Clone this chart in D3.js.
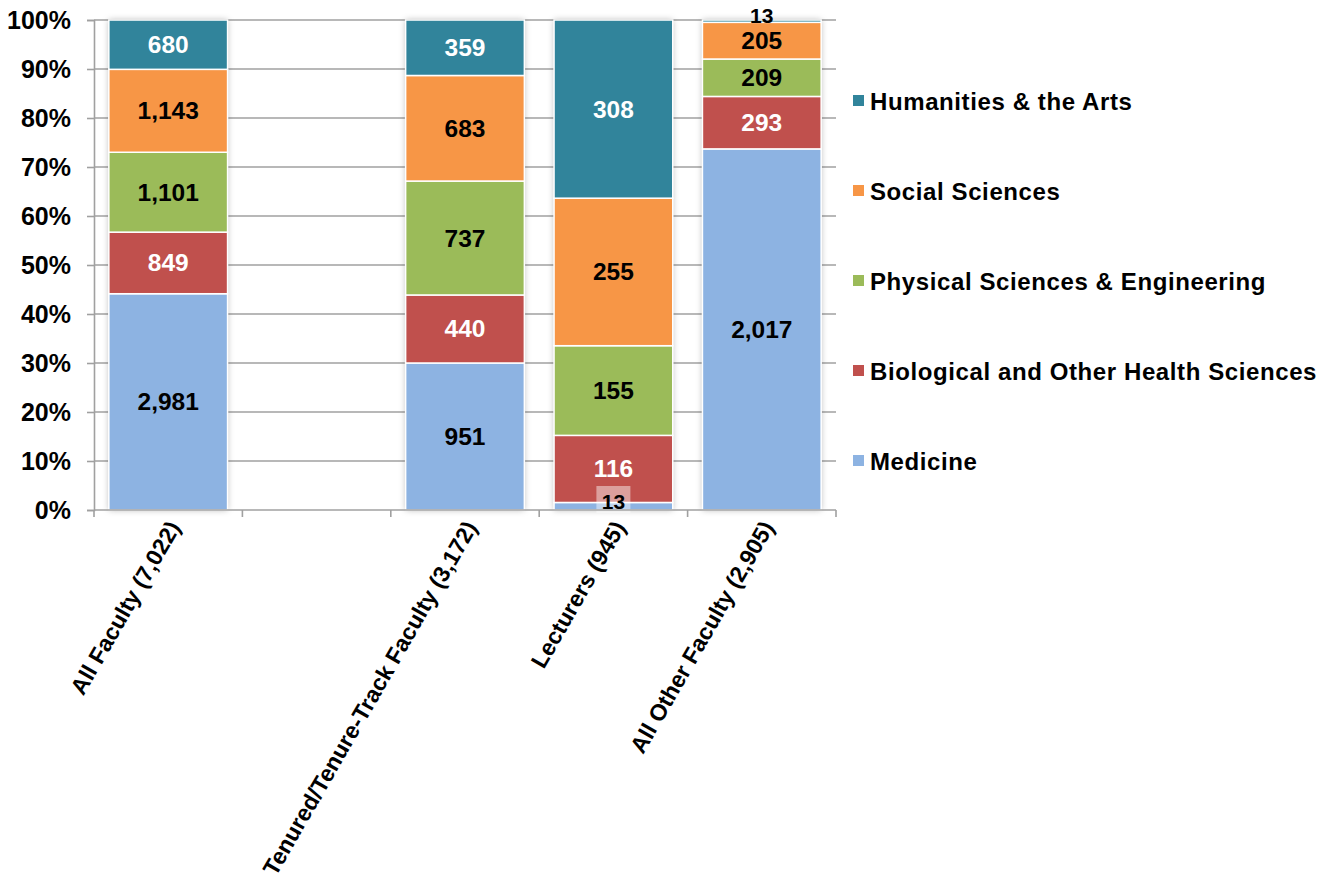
<!DOCTYPE html>
<html>
<head>
<meta charset="utf-8">
<script src="https://cdn.jsdelivr.net/npm/d3@7"></script>
<style>
  html, body { margin: 0; padding: 0; background: #fff; }
  svg { display: block; font-family: "Liberation Sans", Arial, sans-serif; font-weight: bold; }
</style>
</head>
<body>
<svg id="chart" width="1336" height="884"></svg>
<script>
// ---- data ----
const categories = ["All Faculty (7,022)", "", "Tenured/Tenure-Track Faculty (3,172)", "Lecturers (945)", "All Other Faculty (2,905)"];
const seriesNames = ["Medicine", "Biological and Other Health Sciences", "Physical Sciences & Engineering", "Social Sciences", "Humanities & the Arts"];
const medicine   = [2981, null, 951, 13, 2017];
const biological = [849,  null, 440, 116, 293];
const physical   = [1101, null, 737, 155, 209];
const social     = [1143, null, 683, 255, 205];
const humanities = [680,  null, 359, 308, 13];
const yTicks = [0, 0.1, 0.2, 0.3, 0.4, 0.5, 0.6, 0.7, 0.8, 0.9, 1.0];

const seriesValues = [medicine, biological, physical, social, humanities];
const colors = ["#8db3e2", "#c0504d", "#9bbb59", "#f79646", "#31849b"];
const labelColors = ["#000", "#fff", "#000", "#000", "#fff"];

(function () {
// ---- layout ----
const svg = d3.select("#chart");
const pLeft = 94, pRight = 836, pTop = 20, pBottom = 510;
const catKeys = categories.map((c, i) => "c" + i);

const x = d3.scaleBand().domain(catKeys).range([pLeft, pRight]).paddingInner(0.2).paddingOuter(0.1);
const y = d3.scaleLinear().domain([0, 1]).range([pBottom, pTop]);

// shadow filter
const defs = svg.append("defs");
const f = defs.append("filter").attr("id", "shadow").attr("x", "-20%").attr("y", "-5%").attr("width", "140%").attr("height", "110%");
f.append("feDropShadow").attr("dx", 0).attr("dy", 0).attr("stdDeviation", 3).attr("flood-color", "#000").attr("flood-opacity", 0.28);

// gridlines
svg.append("g").selectAll("line").data(yTicks.slice(1)).join("line")
  .attr("x1", pLeft).attr("x2", pRight)
  .attr("y1", d => y(d)).attr("y2", d => y(d))
  .attr("stroke", "#a0a0a0").attr("stroke-width", 1.6);

// build rows
const rows = categories.map((c, i) => {
  const vals = seriesValues.map(s => s[i]);
  return { key: catKeys[i], name: c, vals, total: vals.every(v => v == null) ? 0 : d3.sum(vals) };
});

const barsG = svg.append("g");
rows.forEach(r => {
  if (!r.total) return;
  const g = barsG.append("g");
  g.append("rect")
    .attr("x", x(r.key)).attr("width", x.bandwidth())
    .attr("y", y(1)).attr("height", y(0) - y(1))
    .attr("fill", "#fff").attr("filter", "url(#shadow)");
  let cum = 0;
  r.vals.forEach((v, si) => {
    const y0 = cum / r.total, y1 = (cum + v) / r.total;
    cum += v;
    g.append("rect")
      .attr("x", x(r.key)).attr("width", x.bandwidth())
      .attr("y", y(y1)).attr("height", y(y0) - y(y1))
      .attr("fill", colors[si]).attr("stroke", "#fff").attr("stroke-width", 1.5);
  });
});

// value labels
const labelsG = svg.append("g");
rows.forEach(r => {
  if (!r.total) return;
  let cum = 0;
  r.vals.forEach((v, si) => {
    const y0 = cum / r.total, y1 = (cum + v) / r.total;
    cum += v;
    const cx = x(r.key) + x.bandwidth() / 2;
    const h = y(y0) - y(y1);
    const txt = d3.format(",")(v);
    if (h >= 14) {
      labelsG.append("text").attr("x", cx).attr("y", (y(y0) + y(y1)) / 2)
        .attr("text-anchor", "middle").attr("dominant-baseline", "central")
        .attr("font-size", 24.5).attr("fill", labelColors[si]).text(txt);
    } else if (si === seriesValues.length - 1) {
      labelsG.append("text").attr("x", cx).attr("y", y(y1) - 5)
        .attr("text-anchor", "middle").attr("dominant-baseline", "central")
        .attr("font-size", 21).attr("fill", "#000").text(txt);
    } else {
      const cyL = y(y0) - 9;
      labelsG.append("rect").attr("x", cx - 17).attr("y", cyL - 15).attr("width", 34).attr("height", 27)
        .attr("fill", "#fff").attr("fill-opacity", 0.45);
      labelsG.append("text").attr("x", cx).attr("y", cyL)
        .attr("text-anchor", "middle").attr("dominant-baseline", "central")
        .attr("font-size", 21).attr("fill", "#000").text(txt);
    }
  });
});

// y axis
const yAxis = svg.append("g").attr("transform", `translate(${pLeft},0)`)
  .call(d3.axisLeft(y).tickValues(yTicks).tickFormat(d3.format(".0%")).tickSize(7).tickPadding(16));
yAxis.select(".domain").attr("stroke", "#a0a0a0").attr("stroke-width", 1.6);
yAxis.selectAll(".tick line").attr("stroke", "#a0a0a0").attr("stroke-width", 1.6);
yAxis.selectAll(".tick text").attr("font-size", 25).attr("font-weight", "bold").attr("fill", "#000")
  .attr("font-family", "Liberation Sans, Arial, sans-serif").attr("dy", "0.35em");

// x axis line and boundary ticks
const xg = svg.append("g");
xg.append("line").attr("x1", pLeft).attr("x2", pRight).attr("y1", pBottom).attr("y2", pBottom)
  .attr("stroke", "#a0a0a0").attr("stroke-width", 1.6);
const boundaries = catKeys.map((k, i) => pLeft + i * x.step());
boundaries.push(pRight);
xg.selectAll("line.t").data(boundaries).join("line").attr("class", "t")
  .attr("x1", d => d).attr("x2", d => d).attr("y1", pBottom).attr("y2", pBottom + 7)
  .attr("stroke", "#a0a0a0").attr("stroke-width", 1.6);

// category labels
xg.selectAll("text.cat").data(rows.filter(r => r.name)).join("text").attr("class", "cat")
  .attr("transform", r => `translate(${x(r.key) + x.bandwidth() / 2 + 6},${pBottom + 13}) rotate(-60)`)
  .attr("text-anchor", "end").attr("dominant-baseline", "central")
  .attr("font-size", 23).attr("fill", "#000").text(r => r.name);

// legend
const legendOrder = [4, 3, 2, 1, 0];
const lg = svg.append("g");
legendOrder.forEach((si, i) => {
  const cy = 101 + i * 90;
  lg.append("rect").attr("x", 853).attr("y", cy - 6).attr("width", 11).attr("height", 11).attr("fill", colors[si]);
  lg.append("text").attr("x", 870).attr("y", cy).attr("dominant-baseline", "central")
    .attr("font-size", 24).attr("letter-spacing", 0.6).attr("fill", "#000").text(seriesNames[si]);
});
})();
</script>
</body>
</html>
